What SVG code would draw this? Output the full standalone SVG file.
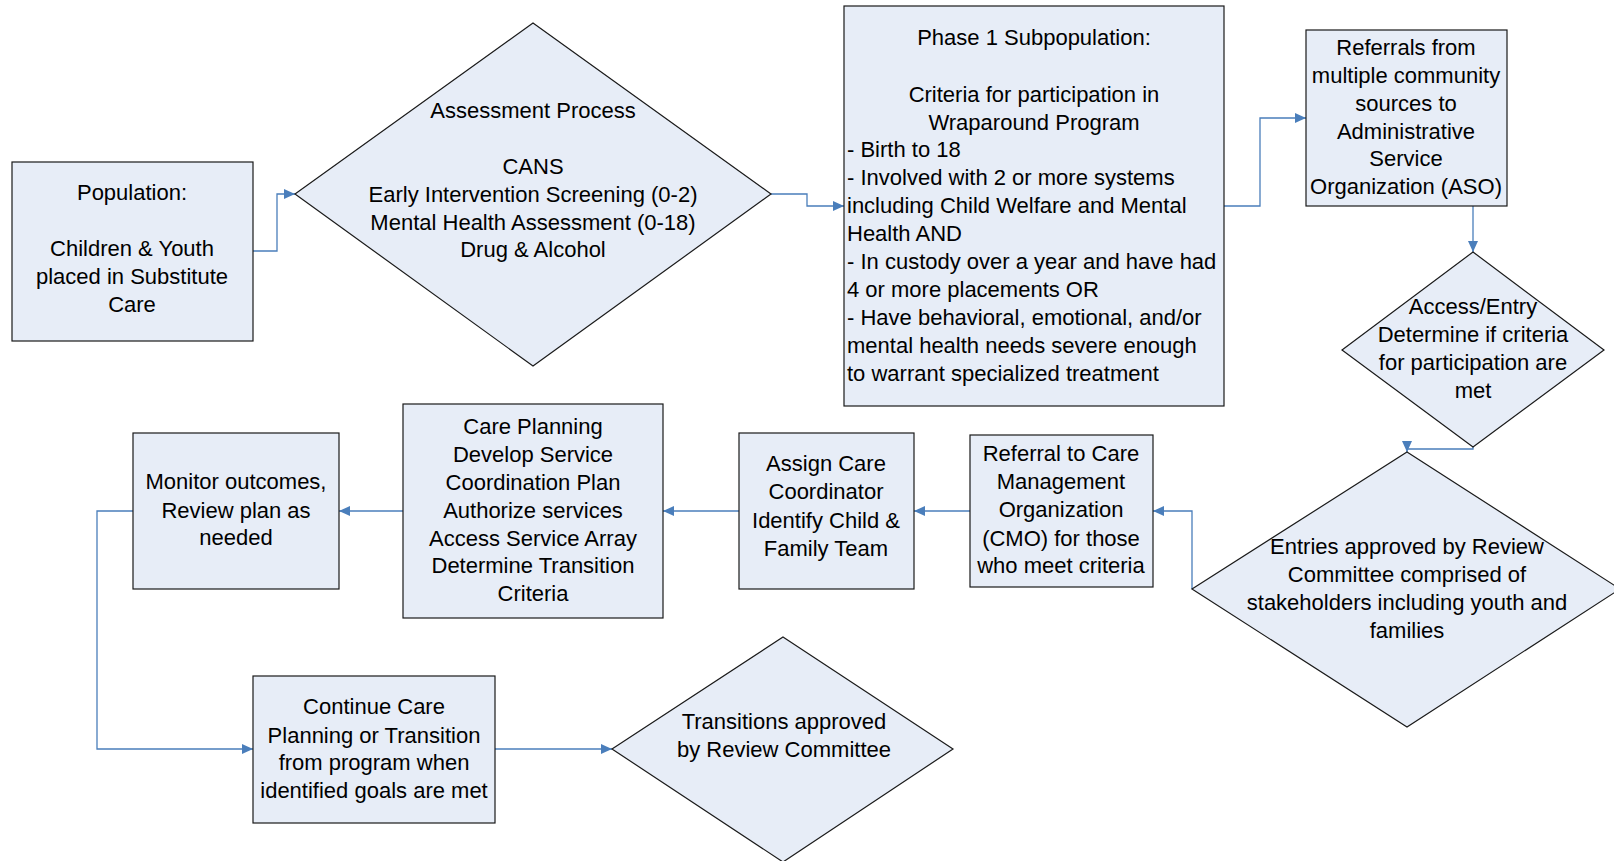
<svg xmlns="http://www.w3.org/2000/svg" width="1614" height="861" viewBox="0 0 1614 861">
<defs>
<style>
.n{fill:#E7EDF7;stroke:#1a1a1a;stroke-width:1.2}
.t{font-family:"Liberation Sans",Arial,sans-serif;font-size:22px;fill:#000;text-anchor:middle}
.l{text-anchor:start}
.c{fill:none;stroke:#4A7EBB;stroke-width:1.3}
</style>
<marker id="a" markerWidth="11" markerHeight="10" refX="11" refY="5" orient="auto" markerUnits="userSpaceOnUse">
<path d="M0,0 L11,5 L0,10 Z" fill="#4A7EBB"/>
</marker>
</defs>
<rect width="1614" height="861" fill="#fff"/>
<g id="connectors">
<path class="c" d="M253,251 H277 V194 H295" marker-end="url(#a)"/>
<path class="c" d="M771,194 H807 V206 H844" marker-end="url(#a)"/>
<path class="c" d="M1224,206 H1260 V118 H1306" marker-end="url(#a)"/>
<path class="c" d="M1473,206 V252" marker-end="url(#a)"/>
<path class="c" d="M1473,447 V449 H1407 V452" marker-end="url(#a)"/>
<path class="c" d="M1192,589 V511 H1153" marker-end="url(#a)"/>
<path class="c" d="M970,511 H914" marker-end="url(#a)"/>
<path class="c" d="M739,511 H663" marker-end="url(#a)"/>
<path class="c" d="M403,511 H339" marker-end="url(#a)"/>
<path class="c" d="M133,511 H97 V749 H253" marker-end="url(#a)"/>
<path class="c" d="M495,749 H612" marker-end="url(#a)"/>
</g>
<g id="population">
<rect class="n" x="12" y="162" width="241" height="179"/>
<text class="t" x="132" y="200">Population:</text>
<text class="t" x="132" y="256">Children &amp; Youth</text>
<text class="t" x="132" y="284">placed in Substitute</text>
<text class="t" x="132" y="312">Care</text>
</g>
<g id="assessment">
<polygon class="n" points="533,23 771,194 533,366 295,194"/>
<text class="t" x="533" y="118">Assessment Process</text>
<text class="t" x="533" y="174">CANS</text>
<text class="t" x="533" y="202">Early Intervention Screening (0-2)</text>
<text class="t" x="533" y="230">Mental Health Assessment (0-18)</text>
<text class="t" x="533" y="257">Drug &amp; Alcohol</text>
</g>
<g id="phase1">
<rect class="n" x="844" y="6" width="380" height="400"/>
<text class="t" x="1034" y="45">Phase 1 Subpopulation:</text>
<text class="t" x="1034" y="102">Criteria for participation in</text>
<text class="t" x="1034" y="130">Wraparound Program</text>
<text class="t l" x="847" y="157">- Birth to 18</text>
<text class="t l" x="847" y="185">- Involved with 2 or more systems</text>
<text class="t l" x="847" y="213">including Child Welfare and Mental</text>
<text class="t l" x="847" y="241">Health AND</text>
<text class="t l" x="847" y="269">- In custody over a year and have had</text>
<text class="t l" x="847" y="297">4 or more placements OR</text>
<text class="t l" x="847" y="325">- Have behavioral, emotional, and/or</text>
<text class="t l" x="847" y="353">mental health needs severe enough</text>
<text class="t l" x="847" y="381">to warrant specialized treatment</text>
</g>
<g id="referrals">
<rect class="n" x="1306" y="30" width="201" height="176"/>
<text class="t" x="1406" y="55">Referrals from</text>
<text class="t" x="1406" y="83">multiple community</text>
<text class="t" x="1406" y="111">sources to</text>
<text class="t" x="1406" y="139">Administrative</text>
<text class="t" x="1406" y="166">Service</text>
<text class="t" x="1406" y="194">Organization (ASO)</text>
</g>
<g id="access">
<polygon class="n" points="1473,252 1604,350 1473,447 1342,350"/>
<text class="t" x="1473" y="314">Access/Entry</text>
<text class="t" x="1473" y="342">Determine if criteria</text>
<text class="t" x="1473" y="370">for participation are</text>
<text class="t" x="1473" y="398">met</text>
</g>
<g id="entries">
<polygon class="n" points="1407,452 1620,589 1407,727 1192,589"/>
<text class="t" x="1407" y="554">Entries approved by Review</text>
<text class="t" x="1407" y="582">Committee comprised of</text>
<text class="t" x="1407" y="610">stakeholders including youth and</text>
<text class="t" x="1407" y="638">families</text>
</g>
<g id="referral-cmo">
<rect class="n" x="970" y="435" width="183" height="152"/>
<text class="t" x="1061" y="461">Referral to Care</text>
<text class="t" x="1061" y="489">Management</text>
<text class="t" x="1061" y="517">Organization</text>
<text class="t" x="1061" y="546">(CMO) for those</text>
<text class="t" x="1061" y="573">who meet criteria</text>
</g>
<g id="assign">
<rect class="n" x="739" y="433" width="175" height="156"/>
<text class="t" x="826" y="471">Assign Care</text>
<text class="t" x="826" y="499">Coordinator</text>
<text class="t" x="826" y="528">Identify Child &amp;</text>
<text class="t" x="826" y="556">Family Team</text>
</g>
<g id="care-planning">
<rect class="n" x="403" y="404" width="260" height="214"/>
<text class="t" x="533" y="434">Care Planning</text>
<text class="t" x="533" y="462">Develop Service</text>
<text class="t" x="533" y="490">Coordination Plan</text>
<text class="t" x="533" y="518">Authorize services</text>
<text class="t" x="533" y="546">Access Service Array</text>
<text class="t" x="533" y="573">Determine Transition</text>
<text class="t" x="533" y="601">Criteria</text>
</g>
<g id="monitor">
<rect class="n" x="133" y="433" width="206" height="156"/>
<text class="t" x="236" y="489">Monitor outcomes,</text>
<text class="t" x="236" y="518">Review plan as</text>
<text class="t" x="236" y="545">needed</text>
</g>
<g id="continue">
<rect class="n" x="253" y="676" width="242" height="147"/>
<text class="t" x="374" y="714">Continue Care</text>
<text class="t" x="374" y="743">Planning or Transition</text>
<text class="t" x="374" y="770">from program when</text>
<text class="t" x="374" y="798">identified goals are met</text>
</g>
<g id="transitions">
<polygon class="n" points="783,637 953,749 783,862 612,749"/>
<text class="t" x="784" y="729">Transitions approved</text>
<text class="t" x="784" y="757">by Review Committee</text>
</g>
</svg>
